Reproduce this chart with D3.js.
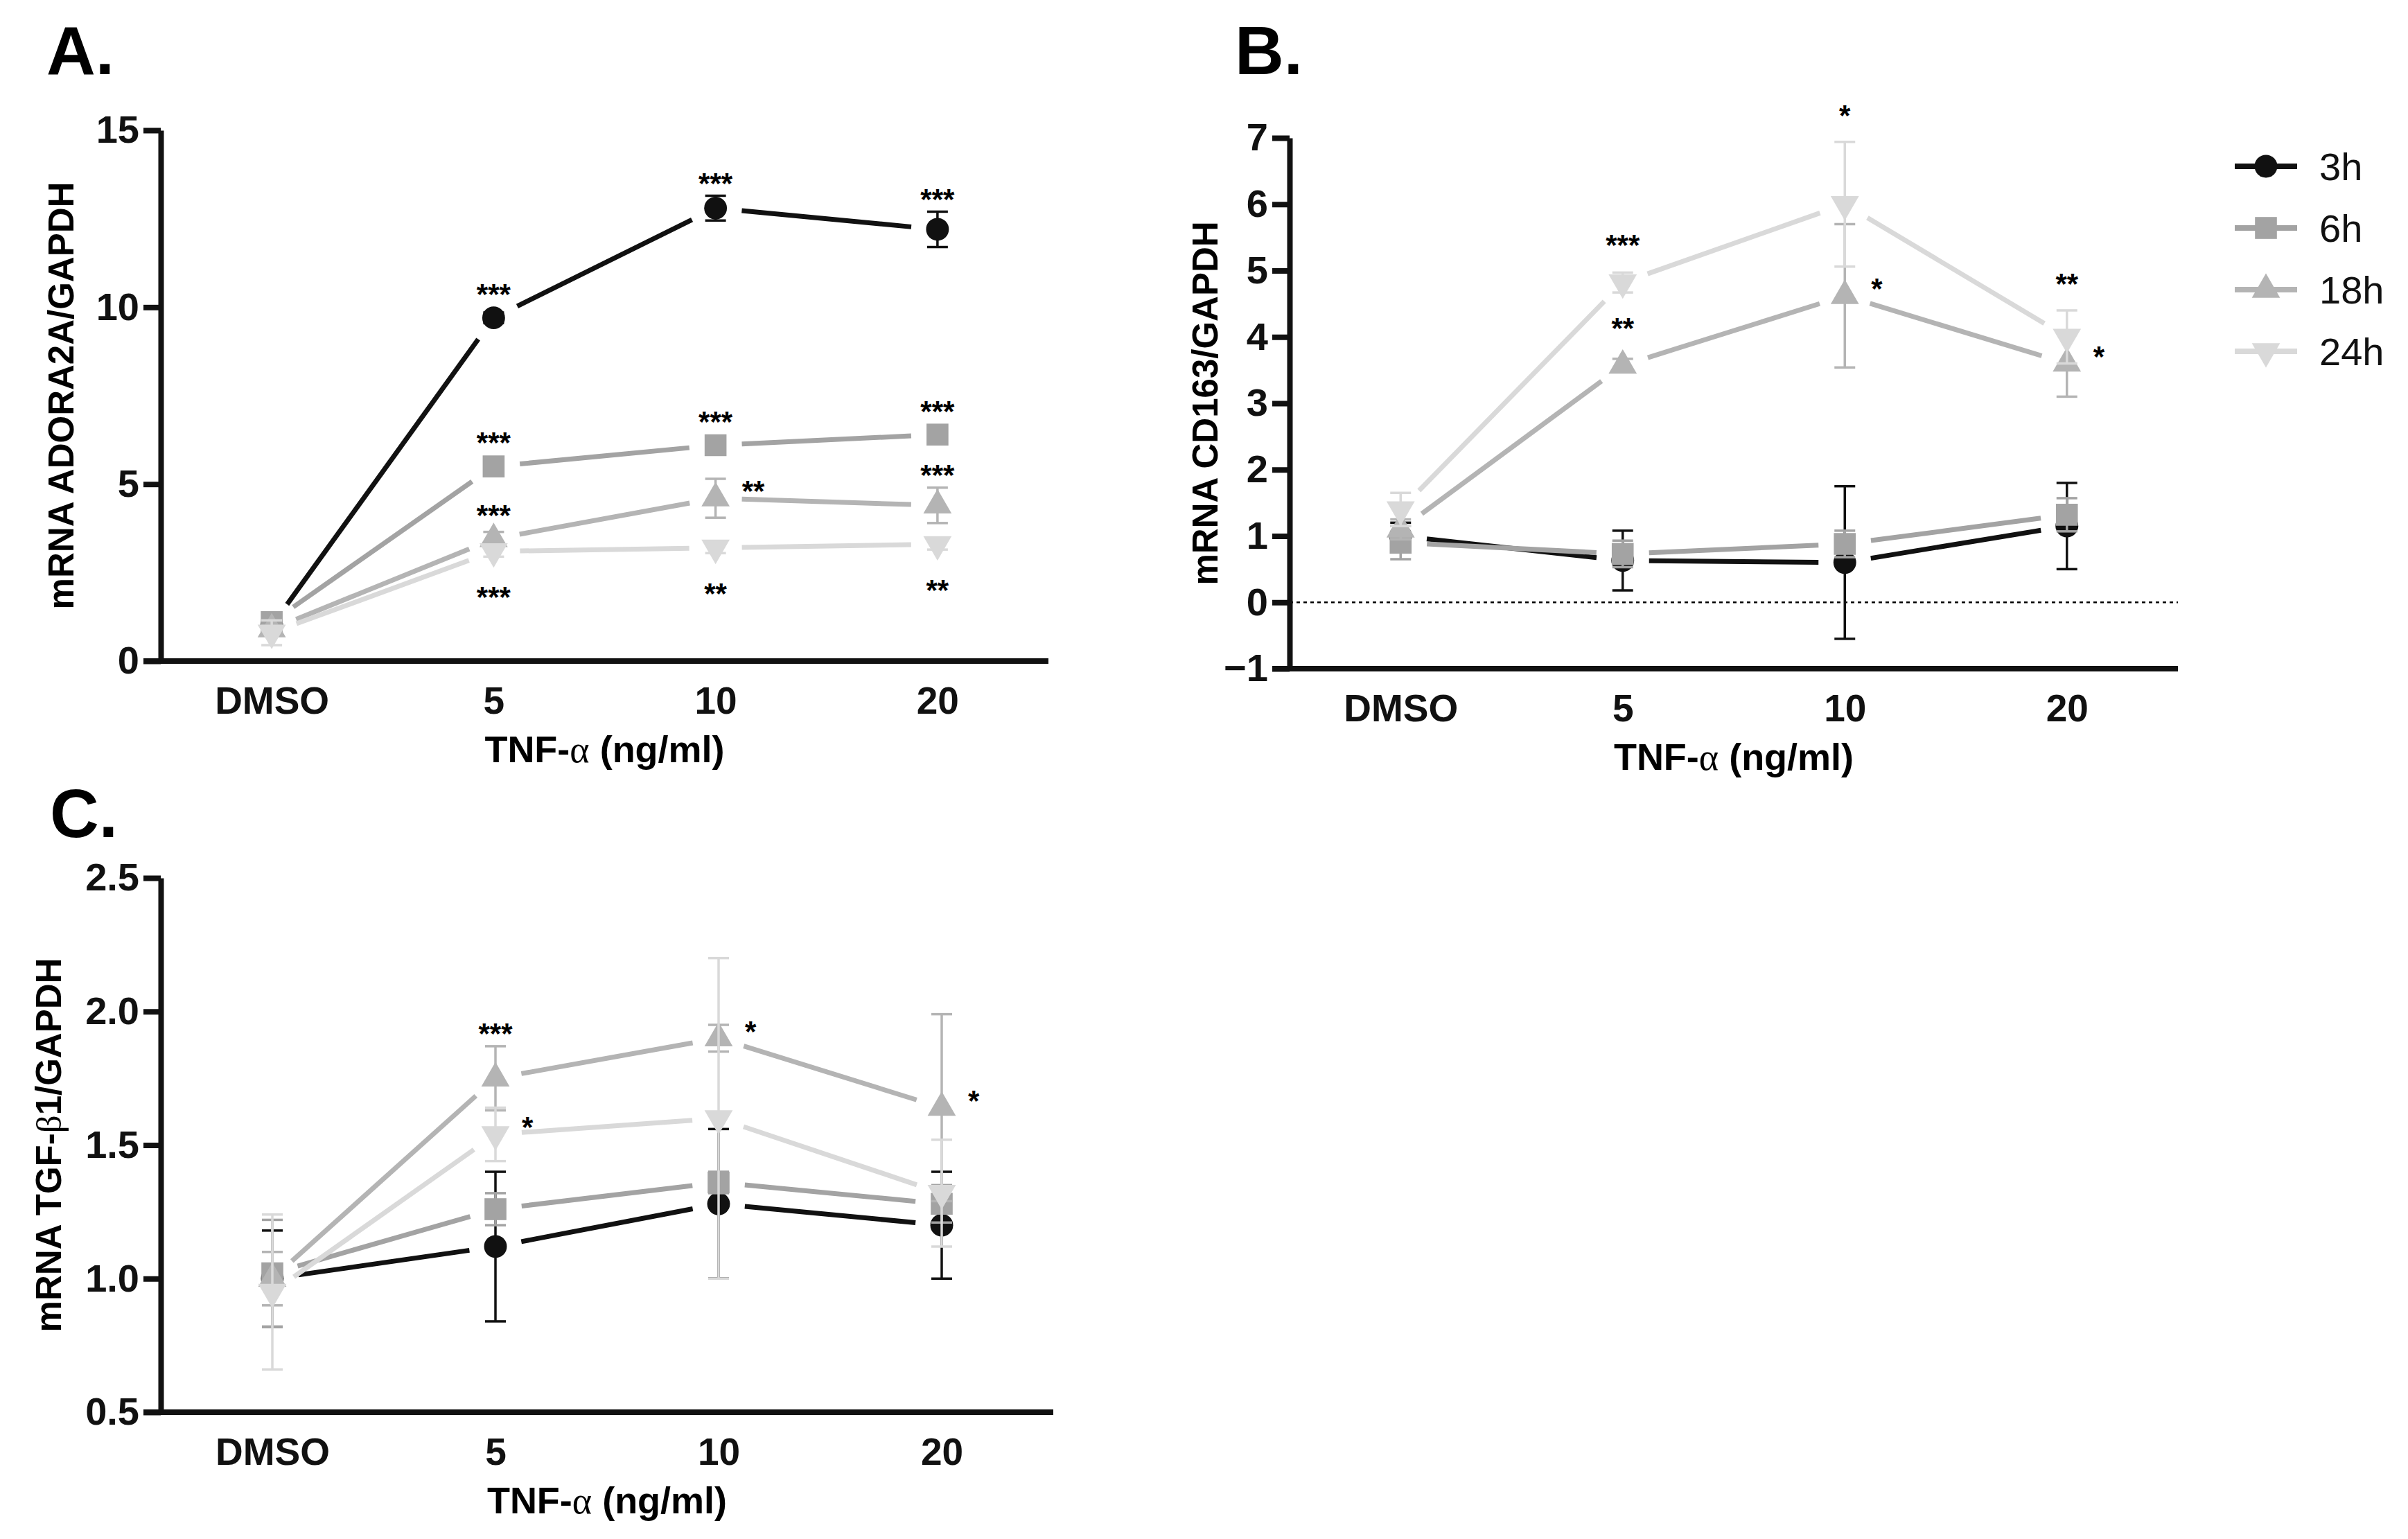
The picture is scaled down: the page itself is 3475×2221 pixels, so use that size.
<!DOCTYPE html>
<html>
<head>
<meta charset="utf-8">
<script src="https://cdn.jsdelivr.net/npm/d3@7"></script>
<style>
  html, body { margin: 0; padding: 0; background: #fff; }
</style>
</head>
<body>
<div id="viz"></div>
<script>
// ---- data ----
const categories = ['DMSO', '5', '10', '20'];
const seriesNames = ['3h', '6h', '18h', '24h'];

// A. ADORA2A (rows: 3h, 6h, 18h, 24h)
const adoraMean = [
  [1.0, 9.7, 12.8, 12.2],
  [1.1, 5.5, 6.1, 6.4],
  [0.9, 3.45, 4.6, 4.4],
  [0.8, 3.1, 3.2, 3.3]
];
const adoraErr = [
  [0.12, 0.15, 0.35, 0.5],
  [0.1, 0.2, 0.2, 0.2],
  [0.1, 0.2, 0.55, 0.5],
  [0.35, 0.15, 0.15, 0.15]
];
const adoraTicks = [0, 5, 10, 15];
const adoraStars = [
  ['3h', '5', '***', 'above'], ['3h', '10', '***', 'above'], ['3h', '20', '***', 'above'],
  ['6h', '5', '***', 'above'], ['6h', '10', '***', 'above'], ['6h', '20', '***', 'above'],
  ['18h', '5', '***', 'above'], ['18h', '10', '**', 'right'], ['18h', '20', '***', 'above'],
  ['24h', '5', '***', 'below'], ['24h', '10', '**', 'below'], ['24h', '20', '**', 'below']
];

// B. CD163
const cd163Mean = [
  [1.0, 0.63, 0.6, 1.15],
  [0.9, 0.73, 0.88, 1.32],
  [1.1, 3.57, 4.62, 3.6],
  [1.4, 4.82, 6.0, 4.0]
];
const cd163Err = [
  [0.2, 0.45, 1.15, 0.65],
  [0.25, 0.2, 0.2, 0.25],
  [0.15, 0.1, 1.08, 0.5],
  [0.25, 0.15, 0.94, 0.4]
];
const cd163Ticks = [-1, 0, 1, 2, 3, 4, 5, 6, 7];
const cd163Stars = [
  ['24h', '5', '***', 'above'], ['18h', '5', '**', 'above'],
  ['24h', '10', '*', 'above'], ['18h', '10', '*', 'right'],
  ['24h', '20', '**', 'above'], ['18h', '20', '*', 'right']
];

// C. TGF-β1
const tgfMean = [
  [1.0, 1.12, 1.28, 1.2],
  [1.02, 1.26, 1.36, 1.28],
  [1.0, 1.75, 1.9, 1.64],
  [0.95, 1.54, 1.6, 1.32]
];
const tgfErr = [
  [0.18, 0.28, 0.28, 0.2],
  [0.2, 0.06, 0.04, 0.07],
  [0.1, 0.12, 0.05, 0.35],
  [0.29, 0.1, 0.6, 0.2]
];
const tgfTicks = [0.5, 1.0, 1.5, 2.0, 2.5];
const tgfStars = [
  ['18h', '5', '***', 'above'], ['24h', '5', '*', 'right'],
  ['18h', '10', '*', 'right'], ['18h', '20', '*', 'right']
];

// ---- styling ----
const W = 3475;
const H = 2221;
const FONT = '"Liberation Sans", Arial, Helvetica, sans-serif';
const SERIF = '"Liberation Serif", "DejaVu Serif", serif';
const colors = ['#111111', '#a3a3a3', '#b4b4b4', '#d9d9d9'];
const symbols = [d3.symbolCircle, d3.symbolSquare, d3.symbolTriangle, d3.symbolTriangle];
const symbolSizes = [850, 1000, 720, 720];
const rotations = [0, 0, 0, 180];
const AXIS_W = 8;
const LINE_W = 7;
const GAP = 38;
const STAR_FS = 42;

const svg = d3
  .select('#viz')
  .append('svg')
  .attr('width', W)
  .attr('height', H)
  .attr('viewBox', `0 0 ${W} ${H}`)
  .style('font-family', FONT);

svg.append('rect').attr('width', W).attr('height', H).attr('fill', '#fff');

// text with greek letters set in a serif face
const greekText = function (sel, str) {
  str.split(/([α-ω])/).filter(s => s.length).forEach(part => {
    const t = sel.append('tspan').text(part);
    if (/[α-ω]/.test(part)) t.attr('font-family', SERIF).attr('font-weight', 'normal');
  });
};

const drawPanel = function (p) {
  const g = svg.append('g');
  const x = d3.scalePoint().domain(categories).range([p.x0, p.x1]).padding(0.5);
  const y = d3.scaleLinear().domain(p.domain).range([p.yBottom, p.yTop]);

  // panel letter
  g.append('text')
    .attr('x', p.letterX)
    .attr('y', p.letterY)
    .attr('font-size', 98)
    .attr('font-weight', 'bold')
    .text(p.letter);

  if (p.zeroLine) {
    g.append('line')
      .attr('x1', p.x0)
      .attr('x2', p.x1)
      .attr('y1', y(0))
      .attr('y2', y(0))
      .attr('stroke', '#000')
      .attr('stroke-width', 2.5)
      .attr('stroke-dasharray', '5,5');
  }

  // series: error bars, gapped lines, markers
  seriesNames.forEach((name, s) => {
    const sg = g.append('g').attr('class', 'series');
    const pts = categories.map((c, i) => ({
      c, v: p.means[s][i], e: p.errs[s][i], px: x(c), py: y(p.means[s][i])
    }));

    const eb = sg.selectAll('.eb').data(pts).enter().append('g')
      .attr('stroke', colors[s])
      .attr('stroke-width', 3.5);
    eb.append('line')
      .attr('x1', d => d.px).attr('x2', d => d.px)
      .attr('y1', d => y(d.v + d.e)).attr('y2', d => y(d.v - d.e));
    eb.append('line')
      .attr('x1', d => d.px - 15).attr('x2', d => d.px + 15)
      .attr('y1', d => y(d.v + d.e)).attr('y2', d => y(d.v + d.e));
    eb.append('line')
      .attr('x1', d => d.px - 15).attr('x2', d => d.px + 15)
      .attr('y1', d => y(d.v - d.e)).attr('y2', d => y(d.v - d.e));

    const segs = d3.pairs(pts).map(([a, b]) => {
      const dx = b.px - a.px;
      const dy = b.py - a.py;
      const len = Math.hypot(dx, dy);
      const ux = dx / len;
      const uy = dy / len;
      return [a.px + ux * GAP, a.py + uy * GAP, b.px - ux * GAP, b.py - uy * GAP];
    });
    sg.selectAll('.seg').data(segs).enter().append('line')
      .attr('x1', d => d[0]).attr('y1', d => d[1])
      .attr('x2', d => d[2]).attr('y2', d => d[3])
      .attr('stroke', colors[s])
      .attr('stroke-width', LINE_W);

    sg.selectAll('.mark').data(pts).enter().append('path')
      .attr('d', d3.symbol().type(symbols[s]).size(symbolSizes[s]))
      .attr('transform', d => `translate(${d.px},${d.py}) rotate(${rotations[s]})`)
      .attr('fill', colors[s]);
  });

  // significance stars
  g.selectAll('.star').data(p.stars).enter().append('text')
    .attr('font-size', STAR_FS)
    .attr('font-weight', 'bold')
    .attr('text-anchor', d => (d[3] === 'right' ? 'start' : 'middle'))
    .each(function (d) {
      const s = seriesNames.indexOf(d[0]);
      const i = categories.indexOf(d[1]);
      const v = p.means[s][i];
      const e = p.errs[s][i];
      const cx = x(d[1]);
      let tx = cx;
      let ty;
      if (d[3] === 'above') {
        ty = Math.min(y(v + e), y(v) - 16) - p.starGap;
      } else if (d[3] === 'below') {
        ty = Math.max(y(v - e), y(v) + 16) + 40;
      } else {
        tx = cx + 38;
        ty = y(v) - 20;
      }
      d3.select(this).attr('x', tx).attr('y', ty + 0.58 * STAR_FS);
    })
    .text(d => d[2]);

  // y axis
  const yAxis = g.append('g')
    .attr('transform', `translate(${p.x0},0)`)
    .call(d3.axisLeft(y).tickValues(p.ticks).tickFormat(p.fmt).tickSize(25).tickSizeOuter(0).tickPadding(6));
  yAxis.select('.domain').attr('stroke-width', AXIS_W).attr('stroke', '#111');
  yAxis.selectAll('.tick line').attr('stroke-width', AXIS_W).attr('stroke', '#111');
  yAxis.selectAll('.tick text')
    .attr('font-family', FONT).attr('font-size', 56).attr('font-weight', 'bold').attr('fill', '#111');

  // x axis
  const xAxis = g.append('g')
    .attr('transform', `translate(0,${p.yBottom})`)
    .call(d3.axisBottom(x).tickSize(0).tickSizeOuter(0).tickPadding(37));
  xAxis.select('.domain').attr('stroke-width', AXIS_W).attr('stroke', '#111')
    .attr('d', `M${p.x0 - 25},0H${p.x1}`);
  xAxis.selectAll('.tick text')
    .attr('font-family', FONT).attr('font-size', 55).attr('font-weight', 'bold').attr('fill', '#111');

  // axis titles
  const xt = g.append('text')
    .attr('x', (p.x0 + p.x1) / 2)
    .attr('y', p.yBottom + 146)
    .attr('text-anchor', 'middle')
    .attr('font-size', 54)
    .attr('font-weight', 'bold');
  greekText(xt, 'TNF-α (ng/ml)');

  const yt = g.append('text')
    .attr('transform', `translate(${p.titleX},${(p.yTop + p.yBottom) / 2}) rotate(-90)`)
    .attr('text-anchor', 'middle')
    .attr('font-size', 51)
    .attr('font-weight', 'bold');
  greekText(yt, p.yTitle);
};

drawPanel({
  letter: 'A.', letterX: 67, letterY: 107,
  x0: 232, x1: 1513, yTop: 188, yBottom: 954,
  domain: [0, 15], ticks: adoraTicks, fmt: d3.format('d'),
  means: adoraMean, errs: adoraErr, stars: adoraStars,
  yTitle: 'mRNA ADORA2A/GAPDH', titleX: 106, starGap: 28, zeroLine: false
});

drawPanel({
  letter: 'B.', letterX: 1782, letterY: 107,
  x0: 1861, x1: 3143, yTop: 199, yBottom: 965,
  domain: [-1, 7], ticks: cd163Ticks, fmt: d3.format('d'),
  means: cd163Mean, errs: cd163Err, stars: cd163Stars,
  yTitle: 'mRNA CD163/GAPDH', titleX: 1757, starGap: 48, zeroLine: true
});

drawPanel({
  letter: 'C.', letterX: 72, letterY: 1208,
  x0: 232, x1: 1520, yTop: 1267, yBottom: 2038,
  domain: [0.5, 2.5], ticks: tgfTicks, fmt: d3.format('.1f'),
  means: tgfMean, errs: tgfErr, stars: tgfStars,
  yTitle: 'mRNA TGF-β1/GAPDH', titleX: 88, starGap: 28, zeroLine: false
});

// legend (panel B)
const legend = svg.append('g').attr('transform', 'translate(3225,240)');
const rows = legend.selectAll('.row').data(seriesNames).enter().append('g')
  .attr('transform', (d, i) => `translate(0,${i * 89})`);
rows.append('line')
  .attr('x1', 0).attr('x2', 90).attr('y1', 0).attr('y2', 0)
  .attr('stroke', (d, i) => colors[i])
  .attr('stroke-width', LINE_W + 1);
rows.append('path')
  .attr('d', (d, i) => d3.symbol().type(symbols[i]).size(symbolSizes[i])())
  .attr('transform', (d, i) => `translate(45,0) rotate(${rotations[i]})`)
  .attr('fill', (d, i) => colors[i]);
rows.append('text')
  .attr('x', 122)
  .attr('y', 20)
  .attr('font-size', 56)
  .attr('fill', '#111')
  .text(d => d);
</script>
</body>
</html>
